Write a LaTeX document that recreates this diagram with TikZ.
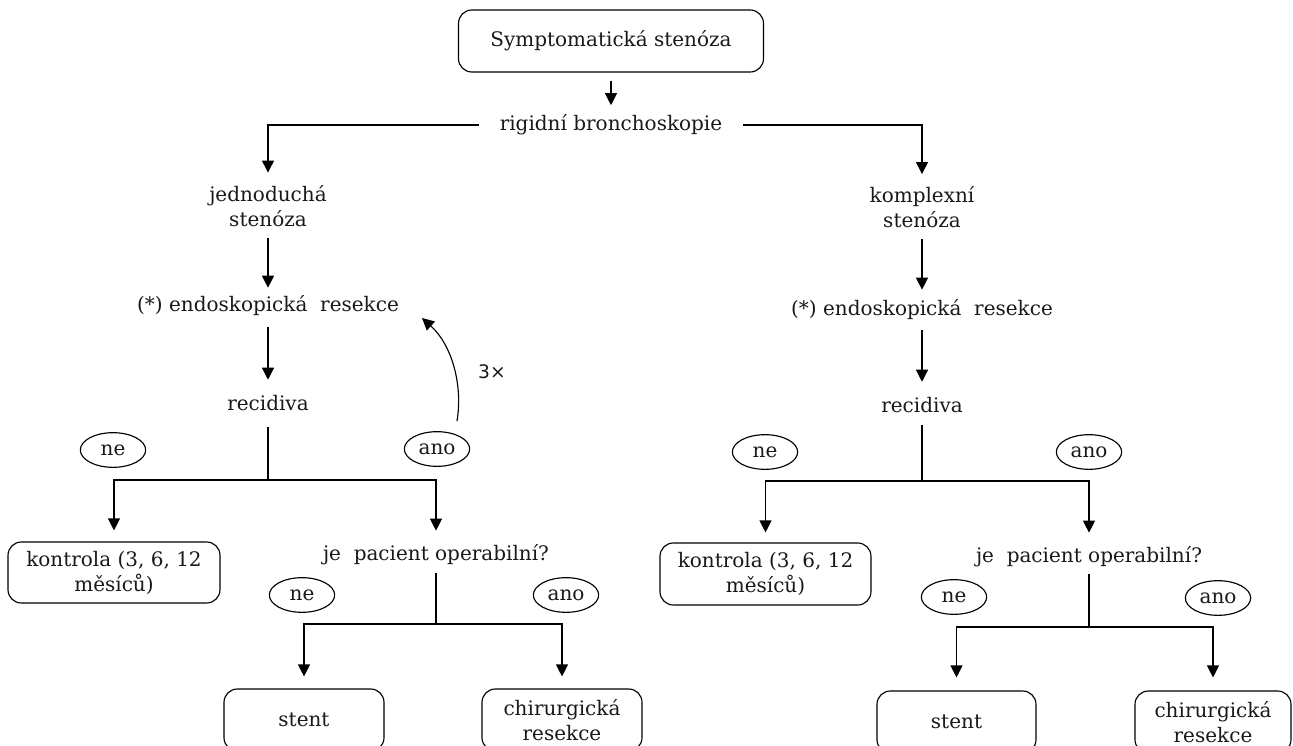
\documentclass[tikz,border=0pt]{standalone}
\usepackage{fontspec}
\setmainfont{DejaVu Serif}
\newfontfamily\sansf{DejaVu Sans}
\usetikzlibrary{arrows.meta,shapes.geometric}
\begin{document}
\begin{tikzpicture}[x=0.75pt,y=-0.75pt,
  every node/.style={font=\fontsize{15pt}{18.75pt}\selectfont, text=black!90},
  txt/.style={inner sep=0pt, text height=11pt, text depth=3.3pt},
  txt2/.style={inner sep=0pt, align=center},
  rbox/.style={draw, rounded corners=10pt, align=center, inner sep=0pt, line width=0.85pt},
  oval/.style={draw, ellipse, minimum width=49pt, minimum height=26pt, inner sep=0pt, line width=0.85pt},
  arr/.style={-{Triangle[width=9pt,length=9pt]}, line width=0.85pt},
  ln/.style={line width=0.85pt},
]
\useasboundingbox (0,0) rectangle (1293,746);

% ---------- top ----------
\node[rbox, minimum width=228.75pt, minimum height=46.5pt] (top) at (611,41) {Symptomatická stenóza};
\node[txt] (rb) at (611,125) {rigidní bronchoskopie};

% ---------- left branch ----------
\node[txt2] (jed) at (268,206) {jednoduchá\\stenóza};
\node[txt] (endL) at (268,306) {(*) endoskopická\ \ resekce};
\node[txt] (recL) at (268,405) {recidiva};
\node[oval] (neL) at (113,450) {ne};
\node[oval] (anoL) at (437,449) {ano};
\coordinate (jL) at (268,480);
\node[rbox, minimum width=159pt, minimum height=45.75pt] (konL) at (114,572.5) {kontrola (3, 6, 12\\měsíců)};
\node[txt] (jeL) at (436,555) {je\ \ pacient operabilní?};
\node[oval] (ne2L) at (302,595) {ne};
\node[oval] (ano2L) at (566,595) {ano};
\coordinate (j2L) at (436,624);
\node[rbox, minimum width=120pt, minimum height=46.5pt] (stentL) at (304,720) {stent};
\node[rbox, minimum width=120pt, minimum height=46.5pt] (chirL) at (562,720) {chirurgická\\resekce};
\coordinate (loopend) at (422,318);
\node[inner sep=0pt, font=\sansf\fontsize{14pt}{16pt}\selectfont] (three) at (492,372) {3×};

% ---------- right branch ----------
\node[txt2] (kom) at (922,207.5) {komplexní\\stenóza};
\node[txt] (endR) at (922,310) {(*) endoskopická\ \ resekce};
\node[txt] (recR) at (922,407) {recidiva};
\node[oval] (neR) at (765,452) {ne};
\node[oval] (anoR) at (1089,452) {ano};
\coordinate (jR) at (922,481);
\node[rbox, minimum width=158.25pt, minimum height=46.5pt] (konR) at (765.5,574) {kontrola (3, 6, 12\\měsíců)};
\node[txt] (jeR) at (1089,557) {je\ \ pacient operabilní?};
\node[oval] (ne2R) at (954,597) {ne};
\node[oval] (ano2R) at (1218,598) {ano};
\coordinate (j2R) at (1089,627);
\node[rbox, minimum width=119.25pt, minimum height=46.5pt] (stentR) at (956.5,722) {stent};
\node[rbox, minimum width=117pt, minimum height=46.5pt] (chirR) at (1213,722) {chirurgická\\resekce};

% ---------- connectors ----------
\draw[arr, shorten <=6pt, shorten >=7.5pt] (top.south) -- (rb.north);
\draw[arr, shorten <=15.4pt, shorten >=9.4pt] (rb.west) -| (jed.north);
\draw[arr, shorten <=15.4pt, shorten >=9.4pt] (rb.east) -| (kom.north);

\draw[arr, shorten <=8.6pt, shorten >=6.4pt] (jed.south) -- (endL.north);
\draw[arr, shorten <=8.6pt, shorten >=11.6pt] (endL.south) -- (recL.north);
\draw[ln, shorten <=9.4pt] (recL.south) -- (jL);
\draw[arr, shorten >=8.25pt] (jL) -| (konL.north);
\draw[arr, shorten >=10.9pt] (jL) -| (jeL.north);
\draw[ln, shorten <=6.4pt] (jeL.south) -- (j2L);
\draw[arr, shorten >=9pt] (j2L) -| (stentL.north);
\draw[arr, shorten >=9pt] (j2L) -| (chirL.north);
\draw[arr] ([shift={(20,-10)}]anoL.north) .. controls (463,385) and (452,345) .. (loopend);

\draw[arr, shorten <=7.9pt, shorten >=7.9pt] (kom.south) -- (endR.north);
\draw[arr, shorten <=7.9pt, shorten >=11.6pt] (endR.south) -- (recR.north);
\draw[ln, shorten <=6.4pt] (recR.south) -- (jR);
\draw[arr, shorten >=7.5pt] (jR) -| (konR.north);
\draw[arr, shorten >=10.9pt] (jR) -| (jeR.north);
\draw[ln, shorten <=5.6pt] (jeR.south) -- (j2R);
\draw[arr, shorten >=9.75pt] (j2R) -| (stentR.north);
\draw[arr, shorten >=9.75pt] (j2R) -| (chirR.north);
\end{tikzpicture}
\end{document}
